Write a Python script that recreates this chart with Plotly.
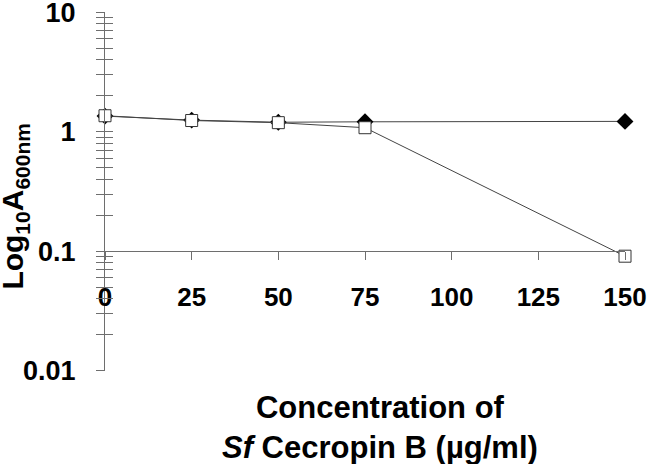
import plotly.graph_objs as go

# concentration of Sf Cecropin B (ug/ml)
concentration = [0, 25, 50, 75, 150]
# Log10 A600nm readings
series_diamond = [1.35, 1.25, 1.20, 1.21, 1.22]
series_square = [1.36, 1.24, 1.19, 1.08, 0.091]

x_ticks = [0, 25, 50, 75, 100, 125, 150]
y_ticks = [0.01, 0.1, 1, 10]
y_tick_text = ['0.01', '0.1', '1', '10']

FONT = 'Arial, Liberation Sans, sans-serif'
AXIS_COLOR = '#6e6e6e'

fig = go.Figure()

fig.add_trace(go.Scatter(
    x=concentration, y=series_diamond, mode='lines+markers',
    line=dict(color='#444444', width=1),
    marker=dict(symbol='diamond', size=13, color='black'),
    cliponaxis=False, showlegend=False,
))
fig.add_trace(go.Scatter(
    x=concentration, y=series_square, mode='lines+markers',
    line=dict(color='#444444', width=1),
    marker=dict(symbol='square', size=12, color='white',
                line=dict(color='#333333', width=1)),
    cliponaxis=False, showlegend=False,
))
# dummy trace so the second y axis (inside ticks) gets drawn
fig.add_trace(go.Scatter(x=[None], y=[None], yaxis='y2', showlegend=False,
                         hoverinfo='skip'))

minor = dict(ticklen=8, tickcolor=AXIS_COLOR, dtick='D1', showgrid=False)

fig.update_layout(
    width=650, height=464,
    margin=dict(l=105, r=25, t=12, b=93),
    paper_bgcolor='white', plot_bgcolor='white',
    font=dict(family=FONT, color='black'),
    xaxis=dict(
        range=[0, 150], anchor='free', position=1/3, automargin=False,
        tickvals=x_ticks, ticks='outside', ticklen=8, tickcolor=AXIS_COLOR,
        ticklabelstandoff=14, ticklabeloverflow='allow',
        tickfont=dict(size=26, family=FONT, weight='bold'),
        showline=True, linecolor=AXIS_COLOR, linewidth=1,
        showgrid=False, zeroline=False,
    ),
    yaxis=dict(
        type='log', range=[-2.001, 1.001], automargin=False,
        tickvals=y_ticks, ticktext=y_tick_text,
        ticks='outside', ticklen=8, tickcolor=AXIS_COLOR,
        minor=dict(minor, ticks='outside'),
        tickfont=dict(size=27, family=FONT, weight='bold'),
        ticklabelstandoff=15, ticklabeloverflow='allow',
        showline=True, linecolor=AXIS_COLOR, linewidth=1,
        showgrid=False, zeroline=False,
    ),
    yaxis2=dict(
        type='log', range=[-2.001, 1.001], overlaying='y', side='left',
        anchor='x', automargin=False,
        tickvals=y_ticks, showticklabels=False,
        ticks='inside', ticklen=8, tickcolor=AXIS_COLOR,
        minor=dict(minor, ticks='inside'),
        showline=False, showgrid=False, zeroline=False,
    ),
    annotations=[
        dict(
            text='Concentration of<br><i>Sf</i> Cecropin B (µg/ml)',
            xref='paper', yref='paper', x=0.529, y=-0.158,
            xanchor='center', yanchor='middle',
            showarrow=False, align='center',
            font=dict(size=31, family=FONT, weight='bold'),
        ),
        dict(
            text='Log<sub>10</sub>A<sub>600nm</sub>',
            xref='paper', yref='paper', x=-0.173, y=0.458,
            xanchor='center', yanchor='middle', textangle=-90,
            showarrow=False,
            font=dict(size=30, family=FONT, weight='bold'),
        ),
    ],
)

# drop the default page margin so the figure fills the window
fig.write_html('out.html', config={'displayModeBar': False},
               post_script="document.body.style.margin='0';")
